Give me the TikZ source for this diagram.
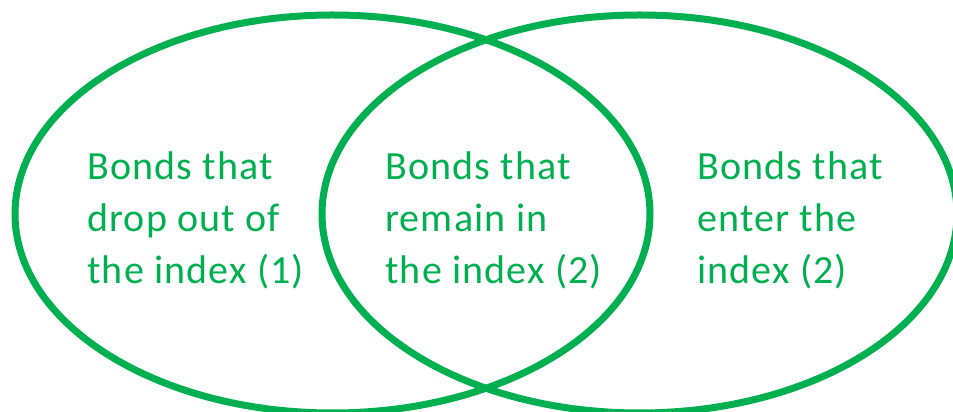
\documentclass[tikz,border=0pt]{standalone}
\usepackage{fontspec}
\setmainfont{Carlito}[LetterSpace=3]
\definecolor{venngreen}{HTML}{00B050}
\tikzset{
  venn/.style={draw=venngreen, line width=7pt},
  vennlabel/.style={anchor=north west, inner sep=0pt, align=left, text=venngreen,
    font=\fontsize{40}{52}\selectfont}
}
\begin{document}
\begin{tikzpicture}[x=1pt, y=1pt]
    \useasboundingbox (0, 0) rectangle (953, 412);
    % Sets
    \draw[venn] (332.5, 198) ellipse (317.5 and 199);
    \draw[venn] (639.5, 198) ellipse (317.5 and 199);

    % Labels
    \node[vennlabel] (dropout) at (87, 260) {Bonds that\\drop out of\\the index (1)};
    \node[vennlabel] (remain) at (385, 260) {Bonds that\\remain in\\the index (2)};
    \node[vennlabel] (enter) at (697, 260) {Bonds that\\enter the\\index (2)};
\end{tikzpicture}
\end{document}
